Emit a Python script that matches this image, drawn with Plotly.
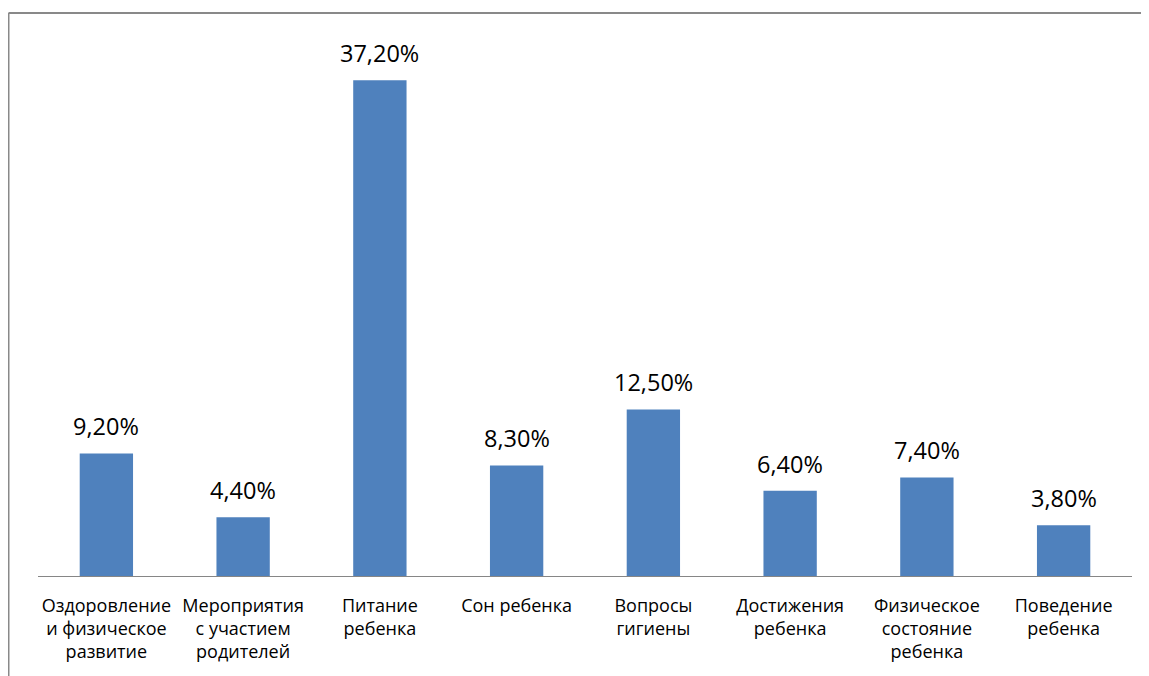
import plotly.graph_objects as go

categories = [
    "Оздоровление<br>и физическое<br>развитие",
    "Мероприятия<br>с участием<br>родителей",
    "Питание<br>ребенка",
    "Сон ребенка",
    "Вопросы<br>гигиены",
    "Достижения<br>ребенка",
    "Физическое<br>состояние<br>ребенка",
    "Поведение<br>ребенка",
]
values = [9.2, 4.4, 37.2, 8.3, 12.5, 6.4, 7.4, 3.8]
labels = ["9,20%", "4,40%", "37,20%", "8,30%", "12,50%", "6,40%", "7,40%", "3,80%"]

FONT = "Open Sans, Noto Sans, Liberation Sans, sans-serif"
xs = list(range(len(categories)))

fig = go.Figure()
fig.add_trace(go.Bar(
    x=xs, y=values,
    marker=dict(color="#4F81BD", line=dict(width=0)),
    hoverinfo="skip",
))

for x, v, t in zip(xs, values, labels):
    fig.add_annotation(
        x=x, y=v, text=t, showarrow=False,
        xanchor="center", yanchor="middle", yshift=27,
        font=dict(family=FONT, size=23.5, color="#000000"),
    )

# page has an 8px body margin; figure sized to fit the window
W, H = 1141, 668
L, R, T, B = 30, 17, 35, 100
pw, ph = W - L - R, H - T - B
fx = (0.5 - L) / pw
fy = (H - B - 5) / ph

fig.add_shape(type="line", xref="paper", yref="paper",
              x0=fx, x1=fx, y0=-1, y1=fy,
              line=dict(color="#898989", width=2))
fig.add_shape(type="line", xref="paper", yref="paper",
              x0=fx, x1=1.2, y0=fy, y1=fy,
              line=dict(color="#898989", width=2))

fig.update_layout(
    width=W, height=H,
    margin=dict(l=L, r=R, t=T, b=B, pad=0),
    paper_bgcolor="white", plot_bgcolor="white",
    bargap=0.61,
    showlegend=False,
    xaxis=dict(
        tickmode="array", tickvals=xs, ticktext=categories,
        range=[-0.5, len(categories) - 0.5],
        showline=True, linecolor="#868686", linewidth=1,
        showgrid=False, zeroline=False, ticks="",
        tickfont=dict(family=FONT, size=18, color="#000000"),
        ticklabelstandoff=13,
    ),
    yaxis=dict(
        range=[0, 40], visible=False, showgrid=False, zeroline=False,
    ),
)

fig.write_html("out.html")
